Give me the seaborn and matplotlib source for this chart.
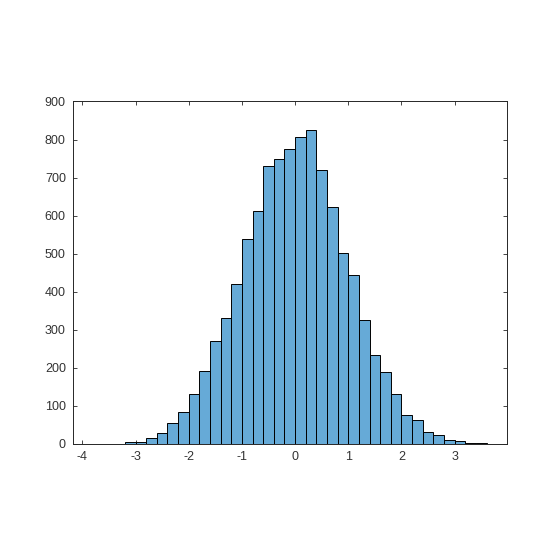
import matplotlib
matplotlib.use("Agg")
import matplotlib.pyplot as plt
import seaborn as sns
import numpy as np

# Histogram bin edges (width 0.2) and counts
bin_edges = [round(-3.2 + 0.2 * i, 1) for i in range(35)]
counts = [5, 6, 15, 29, 54, 83, 131, 191, 271, 331, 421, 539, 612, 731, 749, 775,
          807, 825, 720, 623, 502, 445, 325, 233, 189, 131, 76, 62, 31, 23, 10, 7, 3, 2]
x_ticks = [-4, -3, -2, -1, 0, 1, 2, 3]
y_ticks = [0, 100, 200, 300, 400, 500, 600, 700, 800, 900]

centers = [(bin_edges[i] + bin_edges[i + 1]) / 2 for i in range(len(counts))]

sns.set_theme(style="white")
plt.rcParams['font.family'] = ['Liberation Sans', 'DejaVu Sans']

fig = plt.figure(figsize=(5.6, 5.6), dpi=100)
ax = fig.add_axes([0.13, 116.2 / 560, 0.775, 342.3 / 560])

sns.histplot(x=centers, weights=counts, bins=bin_edges, ax=ax,
             color="#66AAD7", alpha=1.0, edgecolor="black", linewidth=0.7)

ax.set_xlim(-4.18, 3.98)
ax.set_ylim(0, 900)
ax.set_xticks(x_ticks)
ax.set_yticks(y_ticks)
ax.set_xticklabels([str(t) for t in x_ticks])
ax.set_ylabel("")
ax.set_xlabel("")

dark = "#262626"
for s in ax.spines.values():
    s.set_color(dark)
    s.set_linewidth(0.7)
ax.tick_params(axis="both", direction="in", length=3, width=0.6, color=dark,
               labelsize=9, labelcolor="#333333", top=True, right=True,
               bottom=True, left=True)
ax.tick_params(axis="x", pad=5)
ax.tick_params(axis="y", pad=5)

fig.savefig("out.png", dpi=100)
